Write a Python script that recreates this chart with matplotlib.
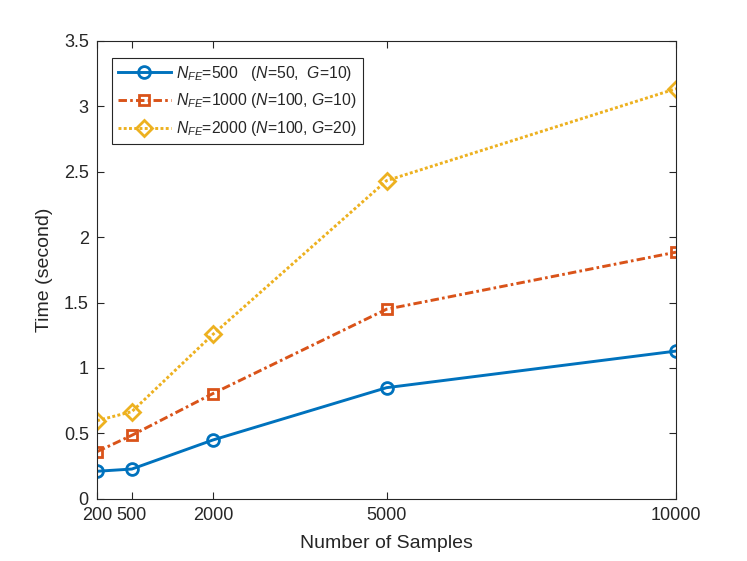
import matplotlib

matplotlib.use("Agg")
import matplotlib.pyplot as plt

# sample counts (tick labels) and where they sit on the axis as plotted
sample_labels = ["200", "500", "2000", "5000", "10000"]
x_plot = [0, 600, 2000, 5000, 10000]

time_nfe500 = [0.21, 0.227, 0.449, 0.849, 1.129]
time_nfe1000 = [0.36, 0.485, 0.804, 1.449, 1.885]
time_nfe2000 = [0.597, 0.666, 1.256, 2.432, 3.135]

y_ticks = [0, 0.5, 1, 1.5, 2, 2.5, 3, 3.5]
y_tick_labels = ["0", "0.5", "1", "1.5", "2", "2.5", "3", "3.5"]

plt.rcParams["font.family"] = ["Liberation Sans", "DejaVu Sans"]
plt.rcParams["mathtext.fontset"] = "custom"
plt.rcParams["mathtext.rm"] = "Liberation Sans"
plt.rcParams["mathtext.it"] = "Liberation Sans:italic"

axis_color = "#262626"

fig = plt.figure(figsize=(7.47, 5.61), dpi=100)
ax = fig.add_axes([0.13, 0.111, 0.775, 0.816])

ax.plot(x_plot, time_nfe500, color="#0072BD", linestyle="-", linewidth=2.1,
        marker="o", markersize=8.5, markerfacecolor="none", markeredgewidth=2,
        label=r"$N_{FE}$=500   ($N$=50,  $G$=10)")
ax.plot(x_plot, time_nfe1000, color="#D95319", linestyle=(0, (2.9, 1.1, 0.9, 1.1)), linewidth=2.1,
        marker="s", markersize=7, markerfacecolor="none", markeredgewidth=2,
        label=r"$N_{FE}$=1000 ($N$=100, $G$=10)")
ax.plot(x_plot, time_nfe2000, color="#EDB120", linestyle=(0, (1, 0.8)), linewidth=2.1,
        marker="D", markersize=8, markerfacecolor="none", markeredgewidth=2,
        label=r"$N_{FE}$=2000 ($N$=100, $G$=20)")

ax.set_xlim(0, 10000)
ax.set_ylim(0, 3.5)
ax.set_xticks(x_plot)
ax.set_xticklabels(sample_labels)
ax.set_yticks(y_ticks)
ax.set_yticklabels(y_tick_labels)

ax.tick_params(direction="in", top=True, right=True, length=5, width=0.8,
               colors=axis_color, labelsize=13, pad=6)
for spine in ax.spines.values():
    spine.set_color(axis_color)
    spine.set_linewidth(0.8)

ax.set_xlabel("Number of Samples", fontsize=14, color=axis_color, labelpad=8)
ax.set_ylabel("Time (second)", fontsize=14, color=axis_color, labelpad=8)

leg = ax.legend(loc="upper left", bbox_to_anchor=(0.026, 0.963), borderaxespad=0,
                fontsize=11.3, handlelength=3.35, handletextpad=0.35, labelspacing=0.55,
                borderpad=0.38, fancybox=False, framealpha=1)
leg.get_frame().set_edgecolor(axis_color)
leg.get_frame().set_linewidth(0.8)
for text in leg.get_texts():
    text.set_color(axis_color)

fig.savefig("out.png", dpi=100)
plt.close(fig)
